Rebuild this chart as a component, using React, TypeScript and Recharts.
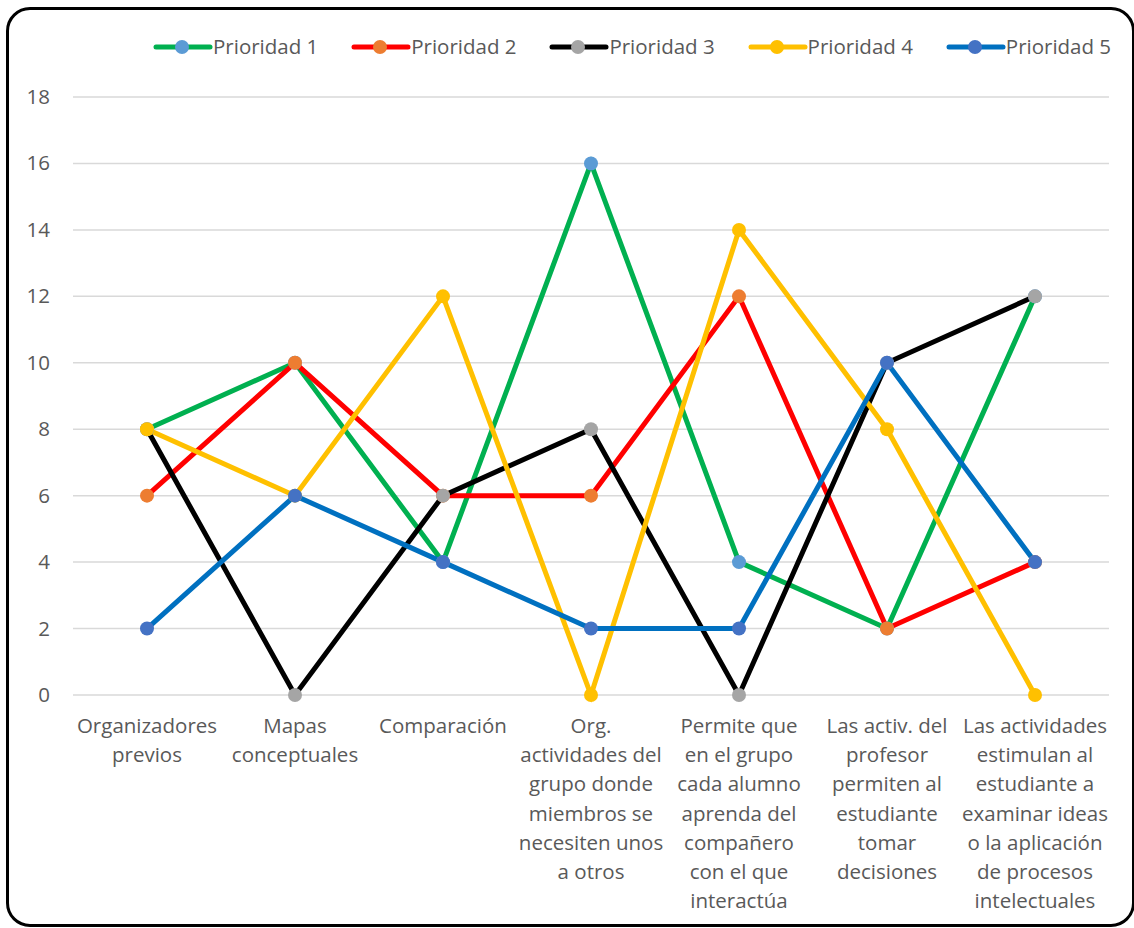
import React from "react";
import { LineChart, Line, XAxis, YAxis, CartesianGrid, Legend } from "recharts";

const categories = [
  "Organizadores previos",
  "Mapas conceptuales",
  "Comparación",
  "Org. actividades del grupo donde miembros se necesiten unos a otros",
  "Permite que en el grupo cada alumno aprenda del compañero con el que interactúa",
  "Las activ. del profesor permiten al estudiante tomar decisiones",
  "Las actividades estimulan al estudiante a examinar ideas o la aplicación de procesos intelectuales",
];

const categoryLines = [
  ["Organizadores", "previos"],
  ["Mapas", "conceptuales"],
  ["Comparación"],
  ["Org.", "actividades del", "grupo donde", "miembros se", "necesiten unos", "a otros"],
  ["Permite que", "en el grupo", "cada alumno", "aprenda del", "compañero", "con el que", "interactúa"],
  ["Las activ. del", "profesor", "permiten al", "estudiante", "tomar", "decisiones"],
  ["Las actividades", "estimulan al", "estudiante a", "examinar ideas", "o la aplicación", "de procesos", "intelectuales"],
];

const prioridad1 = [8, 10, 4, 16, 4, 2, 12];
const prioridad2 = [6, 10, 6, 6, 12, 2, 4];
const prioridad3 = [8, 0, 6, 8, 0, 10, 12];
const prioridad4 = [8, 6, 12, 0, 14, 8, 0];
const prioridad5 = [2, 6, 4, 2, 2, 10, 4];

const yTicks = [0, 2, 4, 6, 8, 10, 12, 14, 16, 18];

const series = [
  { key: "p1", name: "Prioridad 1", values: prioridad1, line: "#00B050", marker: "#5B9BD5" },
  { key: "p2", name: "Prioridad 2", values: prioridad2, line: "#FF0000", marker: "#ED7D31" },
  { key: "p3", name: "Prioridad 3", values: prioridad3, line: "#000000", marker: "#A5A5A5" },
  { key: "p4", name: "Prioridad 4", values: prioridad4, line: "#FFC000", marker: "#FFC000" },
  { key: "p5", name: "Prioridad 5", values: prioridad5, line: "#0070C0", marker: "#4472C4" },
];

const data = categories.map((c, i) => {
  const row: any = { name: c, idx: i };
  series.forEach((s) => {
    row[s.key] = s.values[i];
  });
  return row;
});

const FONT = "'Open Sans', 'Noto Sans', sans-serif";
const TEXT = "#595959";
const FS = 20.5;

const XTick = (props: any) => {
  const { x, y, index } = props;
  const lines = categoryLines[index] || [];
  return (
    <text x={x} y={y} textAnchor="middle" fill={TEXT} fontSize={FS} fontFamily={FONT}>
      {lines.map((l, i) => (
        <tspan key={i} x={x} y={y + 30 + i * 29.2}>
          {l}
        </tspan>
      ))}
    </text>
  );
};

const YTick = (props: any) => {
  const { x, y, payload } = props;
  return (
    <text x={x} y={y + 7} textAnchor="end" fill={TEXT} fontSize={FS} fontFamily={FONT}>
      {payload.value}
    </text>
  );
};

const LegendContent = () => (
  <div style={{ height: 30, position: "relative", width: 1134 }}>
    {series.map((s, i) => {
      const left = 153 + i * 198.2;
      return (
        <div key={s.key} style={{ position: "absolute", left, top: 0, height: 30 }}>
          <svg width={60} height={30} style={{ position: "absolute", left: 0, top: 0 }}>
            <line x1={3} y1={15} x2={57} y2={15} stroke={s.line} strokeWidth={5} strokeLinecap="round" />
            <circle cx={29} cy={15} r={7} fill={s.marker} />
          </svg>
          <span
            style={{
              position: "absolute",
              left: 60,
              top: -1,
              lineHeight: "30px",
              fontSize: FS,
              fontFamily: FONT,
              color: TEXT,
              whiteSpace: "nowrap",
            }}
          >
            {s.name}
          </span>
        </div>
      );
    })}
  </div>
);

export default function App() {
  return (
    <div
      style={{
        position: "absolute",
        left: 0,
        top: 0,
        width: 1134,
        height: 928,
        overflow: "hidden",
        background: "#fff",
      }}
    >
      <div
        style={{
          position: "absolute",
          left: 6,
          top: 7,
          width: 1129,
          height: 920,
          border: "3.5px solid #000",
          borderRadius: 24,
          boxSizing: "border-box",
        }}
      />
      <div style={{ position: "absolute", left: 0, top: 0 }}>
        <LineChart
          width={1134}
          height={928}
          data={data}
          margin={{ top: 67, right: 25, bottom: 13, left: 0 }}
        >
          <CartesianGrid vertical={false} stroke="#D9D9D9" strokeWidth={1.5} />
          <XAxis
            dataKey="name"
            height={220}
            axisLine={false}
            tickLine={false}
            interval={0}
            padding={{ left: 74, right: 74 }}
            tick={<XTick />}
          />
          <YAxis
            width={73}
            domain={[0, 18]}
            ticks={yTicks}
            axisLine={false}
            tickLine={false}
            tickMargin={17}
            tick={<YTick />}
          />
          <Legend
            verticalAlign="top"
            align="left"
            height={30}
            wrapperStyle={{ top: 32, left: 0 }}
            content={<LegendContent />}
          />
          {series.map((s) => (
            <Line
              key={s.key}
              dataKey={s.key}
              name={s.name}
              stroke={s.line}
              strokeWidth={5}
              dot={{ r: 7, fill: s.marker, stroke: s.marker, strokeWidth: 0 }}
              activeDot={false}
              isAnimationActive={false}
            />
          ))}
        </LineChart>
      </div>
    </div>
  );
}
